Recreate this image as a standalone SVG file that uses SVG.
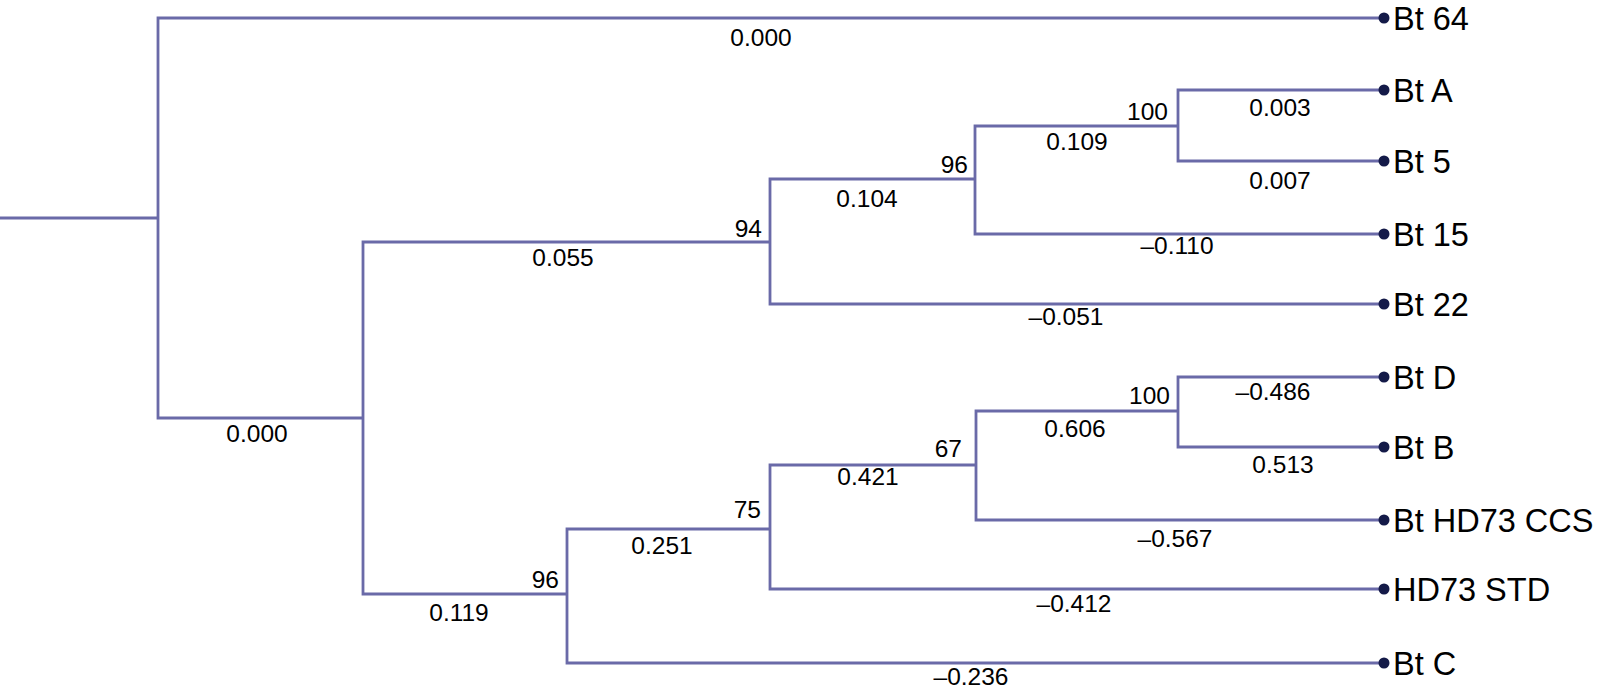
<svg xmlns="http://www.w3.org/2000/svg" width="1600" height="696" viewBox="0 0 1600 696">
<style>
.e{fill:none;stroke:#6a6aa8;stroke-width:2.8;stroke-linecap:square}
.d{fill:#141a48}
.n{font-family:"Liberation Sans",Arial,sans-serif;font-size:32.5px;fill:#000}
.b{font-family:"Liberation Sans",Arial,sans-serif;font-size:24.5px;fill:#000;text-anchor:middle}
.s{font-family:"Liberation Sans",Arial,sans-serif;font-size:24.5px;fill:#000;text-anchor:end}
</style>
<rect width="1600" height="696" fill="#fff"/>
<g id="connectors">
<path class="e" d="M0 218H158M158 18V418M158 18H1384M158 418H363M363 242V594M363 242H770M770 179V304M770 179H975M975 126V234M975 126H1178M1178 90V161M1178 90H1384M1178 161H1384M975 234H1384M770 304H1384M363 594H567M567 529V663M567 529H770M770 465V589M770 465H976M976 411V520M976 411H1178M1178 377V447M1178 377H1384M1178 447H1384M976 520H1384M770 589H1384M567 663H1384"/>
</g>
<g id="branch-labels">
<text class="b" x="761" y="46">0.000</text>
<text class="b" x="257" y="442">0.000</text>
<text class="b" x="563" y="266">0.055</text>
<text class="b" x="867" y="207">0.104</text>
<text class="b" x="1077" y="150">0.109</text>
<text class="b" x="1280" y="116">0.003</text>
<text class="b" x="1280" y="189">0.007</text>
<text class="b" x="1177" y="254">–0.110</text>
<text class="b" x="1066" y="325">–0.051</text>
<text class="b" x="459" y="621">0.119</text>
<text class="b" x="662" y="554">0.251</text>
<text class="b" x="868" y="485">0.421</text>
<text class="b" x="1075" y="437">0.606</text>
<text class="b" x="1273" y="400">–0.486</text>
<text class="b" x="1283" y="473">0.513</text>
<text class="b" x="1175" y="547">–0.567</text>
<text class="b" x="1074" y="612">–0.412</text>
<text class="b" x="971" y="685">–0.236</text>
</g>
<g id="bootstrap">
<text class="s" x="762" y="237">94</text>
<text class="s" x="968" y="173">96</text>
<text class="s" x="1168" y="120">100</text>
<text class="s" x="559" y="588">96</text>
<text class="s" x="761" y="518">75</text>
<text class="s" x="962" y="457">67</text>
<text class="s" x="1170" y="404">100</text>
</g>
<g id="leaf-bt64"><circle class="d" cx="1384" cy="18" r="5.5"/><text class="n" x="1393" y="30">Bt 64</text></g>
<g id="leaf-bta"><circle class="d" cx="1384" cy="90" r="5.5"/><text class="n" x="1393" y="102">Bt A</text></g>
<g id="leaf-bt5"><circle class="d" cx="1384" cy="161" r="5.5"/><text class="n" x="1393" y="173">Bt 5</text></g>
<g id="leaf-bt15"><circle class="d" cx="1384" cy="234" r="5.5"/><text class="n" x="1393" y="246">Bt 15</text></g>
<g id="leaf-bt22"><circle class="d" cx="1384" cy="304" r="5.5"/><text class="n" x="1393" y="316">Bt 22</text></g>
<g id="leaf-btd"><circle class="d" cx="1384" cy="377" r="5.5"/><text class="n" x="1393" y="389">Bt D</text></g>
<g id="leaf-btb"><circle class="d" cx="1384" cy="447" r="5.5"/><text class="n" x="1393" y="459">Bt B</text></g>
<g id="leaf-hd73ccs"><circle class="d" cx="1384" cy="520" r="5.5"/><text class="n" x="1393" y="532">Bt HD73 CCS</text></g>
<g id="leaf-hd73std"><circle class="d" cx="1384" cy="589" r="5.5"/><text class="n" x="1393" y="601">HD73 STD</text></g>
<g id="leaf-btc"><circle class="d" cx="1384" cy="663" r="5.5"/><text class="n" x="1393" y="675">Bt C</text></g>
</svg>
